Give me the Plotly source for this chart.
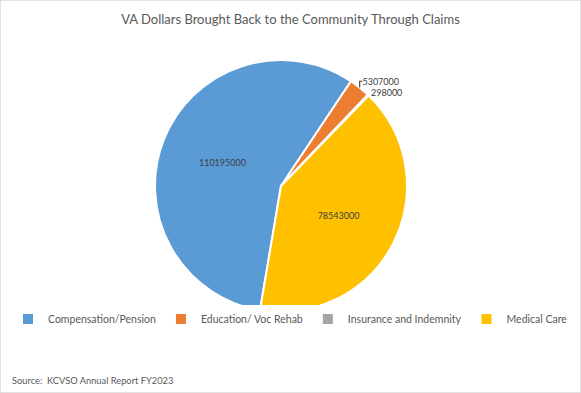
import plotly.graph_objects as go

categories = ["Compensation/Pension", "Education/ Voc Rehab", "Insurance and Indemnity", "Medical Care"]
values = [110195000, 5307000, 298000, 78543000]
colors = ["#5B9BD5", "#ED7D31", "#A5A5A5", "#FFC000"]
title_text = "VA Dollars Brought Back to the Community Through Claims"
source_text = "Source:  KCVSO Annual Report FY2023"

W, H = 581, 393
cx, cy, r = 281, 186, 126

fig = go.Figure(go.Pie(
    labels=categories,
    values=values,
    sort=False,
    direction="clockwise",
    rotation=189.6,
    marker=dict(colors=colors, line=dict(color="white", width=2)),
    texttemplate="%{value:.0f}",
    textposition=["inside", "outside", "outside", "inside"],
    insidetextorientation="horizontal",
    textfont=dict(family="Lato", size=9, color="#404040"),
    outsidetextfont=dict(family="Lato", size=9, color="#404040"),
    domain=dict(x=[(cx - r) / W, (cx + r) / W], y=[1 - (cy + r) / H, 1 - (cy - r) / H]),
    hoverinfo="label+value+percent",
))

fig.update_layout(
    width=W, height=H,
    margin=dict(l=0, r=0, t=0, b=0),
    paper_bgcolor="white",
    title=dict(text=title_text, x=0.5, xanchor="center", y=1 - 19 / H, yanchor="middle",
               font=dict(family="Lato", size=13, color="#595959")),
    legend=dict(orientation="h", x=0.5, xanchor="center", y=1 - 319 / H, yanchor="middle",
                font=dict(family="Lato", size=10.5, color="#595959"),
                itemwidth=30, tracegroupgap=0),
    shapes=[dict(type="rect", xref="paper", yref="paper", x0=0, x1=1, y0=0, y1=1,
                 line=dict(color="#D9D9D9", width=1.5))],
    annotations=[dict(text=source_text, xref="paper", yref="paper", x=10 / W, y=1 - 380 / H,
                      xanchor="left", yanchor="middle", showarrow=False,
                      font=dict(family="Lato", size=9.3, color="#595959"))],
)

fig.write_html("out.html", config={"displayModeBar": False},
               post_script="document.body.style.margin='0';")
